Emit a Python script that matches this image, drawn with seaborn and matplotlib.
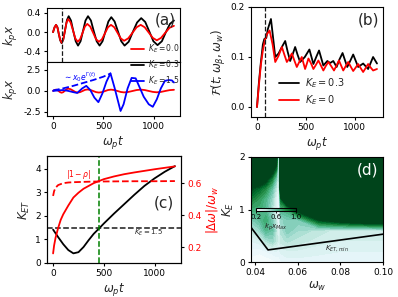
import numpy as np
import matplotlib
matplotlib.use('Agg')
import matplotlib.pyplot as plt
import seaborn as sns
from matplotlib.colors import Normalize
import matplotlib.cm as cm

# ---------------- panel (a) top: k_p x vs omega_p t ----------------
t_a_k = [0, 15, 30, 44, 57, 71, 85, 102, 120, 138, 155, 178, 201, 225, 248, 273, 297, 322, 347,
         376, 404, 433, 462, 491, 520, 549, 578, 611, 644, 677, 710, 751, 792, 834, 875, 915,
         956, 996, 1037, 1080, 1120, 1160, 1200]
x_k03 = [0, 0.1, 0.15, 0.1, -0.04, -0.17, -0.23, -0.15, 0.05, 0.25, 0.33, 0.24, 0.02, -0.19, -0.28,
         -0.19, 0.02, 0.24, 0.33, 0.24, 0.02, -0.19, -0.28, -0.19, 0.015, 0.22, 0.31, 0.22, 0.015,
         -0.19, -0.28, -0.2, 0.005, 0.2, 0.29, 0.21, 0.01, -0.19, -0.27, -0.19, 0.0, 0.17, 0.24]
t_a_r = [0, 15, 30, 44, 57, 71, 85, 101, 118, 134, 150, 174, 198, 221, 245, 269, 293, 316, 340,
         369, 398, 426, 455, 485, 515, 545, 575, 608, 640, 672, 705, 746, 788, 829, 870, 910,
         950, 990, 1030, 1072, 1115, 1157, 1200]
x_k00 = [0, 0.1, 0.15, 0.09, -0.03, -0.16, -0.22, -0.15, 0.025, 0.2, 0.27, 0.2, 0.035, -0.13, -0.2,
         -0.145, -0.015, 0.115, 0.17, 0.115, -0.015, -0.145, -0.2, -0.15, -0.025, 0.1, 0.15, 0.1,
         -0.015, -0.13, -0.18, -0.13, -0.015, 0.1, 0.15, 0.1, -0.01, -0.12, -0.17, -0.12, -0.01,
         0.09, 0.13]

# ---------------- panel (a) bottom ----------------
t_a_b = [0, 50, 100, 150, 200, 240, 290, 330, 370, 410, 450, 490, 530, 570, 610, 640, 670, 700,
         740, 780, 820, 860, 900, 950, 990, 1030, 1070, 1110, 1150, 1180, 1200]
x_k15 = [0, 0.05, 0.1, 0.0, -0.15, -0.25, 0.3, 0.6, 0.1, -0.8, -1.35, -0.3, 1.1, 2.1, 0.4, -1.0,
         -2.4, -1.6, 0.3, 1.55, 1.5, 0.4, -0.7, -1.6, -1.9, -1.0, 0.3, 1.2, 1.3, 1.25, 1.0]
t_env = [0, 100, 200, 300, 400, 500, 575]
x_env = [0.05, 0.3, 0.6, 0.95, 1.3, 1.7, 2.1]

t_mark = 85  # vertical dashed marker

# ---------------- panel (b) ----------------
t_b_k = [0, 20, 40, 60, 75, 95, 110, 143, 170, 187, 221, 255, 289, 315, 340, 365, 391, 415, 442,
         490, 537, 578, 607, 636, 680, 721, 750, 782, 816, 845, 877, 925, 955, 986, 1037, 1088,
         1139, 1190, 1230]
F_k03 = [0, 0.05, 0.09, 0.125, 0.136, 0.138, 0.155, 0.176, 0.13, 0.1, 0.107, 0.12, 0.132, 0.11,
         0.092, 0.105, 0.12, 0.105, 0.09, 0.1, 0.115, 0.086, 0.1, 0.113, 0.083, 0.092, 0.088,
         0.092, 0.08, 0.095, 0.108, 0.08, 0.092, 0.105, 0.08, 0.087, 0.076, 0.1, 0.087]
t_b_r = [0, 20, 40, 60, 80, 100, 129, 160, 187, 220, 255, 280, 306, 330, 357, 383, 408, 433, 459,
         476, 493, 510, 527, 552, 578, 603, 629, 655, 680, 705, 731, 760, 789, 815, 840, 862, 884,
         910, 935, 960, 986, 1012, 1037, 1062, 1088, 1114, 1139, 1165, 1190, 1230]
F_k00 = [0, 0.045, 0.085, 0.113, 0.133, 0.145, 0.153, 0.125, 0.09, 0.102, 0.12, 0.105, 0.09,
         0.097, 0.107, 0.093, 0.08, 0.09, 0.1, 0.088, 0.076, 0.086, 0.097, 0.088, 0.076, 0.084,
         0.093, 0.083, 0.073, 0.082, 0.09, 0.082, 0.073, 0.083, 0.093, 0.083, 0.073, 0.082, 0.09,
         0.081, 0.072, 0.079, 0.086, 0.078, 0.07, 0.078, 0.086, 0.079, 0.073, 0.076]

# ---------------- panel (c) ----------------
t_c = [0, 50, 100, 150, 200, 250, 300, 350, 400, 460, 500, 600, 700, 800, 900, 1000, 1100, 1200]
K_ET = [1.42, 1.1, 0.8, 0.55, 0.41, 0.46, 0.68, 0.97, 1.24, 1.5, 1.68, 2.1, 2.5, 2.9, 3.28, 3.6,
        3.88, 4.12]
t_dw = [0, 10, 25, 50, 75, 100, 150, 200, 250, 300, 400, 500, 600, 700, 800, 900, 1000, 1100, 1200]
dw_rel = [0.16, 0.21, 0.26, 0.32, 0.37, 0.405, 0.46, 0.51, 0.54, 0.565, 0.6, 0.625, 0.642, 0.656,
          0.667, 0.677, 0.687, 0.696, 0.705]
t_rho = [0, 10, 25, 50, 100, 150, 200, 300, 400, 600, 800, 1000, 1200]
one_minus_rho = [0.52, 0.55, 0.572, 0.588, 0.6, 0.604, 0.606, 0.608, 0.61, 0.611, 0.612, 0.612, 0.613]
KE_level = 1.5
t_green = 455

# ---------------- panel (d) ----------------
omega_w = [0.038, 0.042, 0.045, 0.048, 0.050, 0.051, 0.052, 0.055, 0.06, 0.07, 0.08, 0.09, 0.1]
K_E = [0.0, 0.2, 0.4, 0.6, 0.8, 1.0, 1.2, 1.4, 1.6, 1.8, 2.0]
# kp x_max, one row per K_E value (bottom -> top), one column per omega_w
xmax_rows = [
    [0.22, 0.20, 0.20, 0.22, 0.24, 0.25, 0.27, 0.30, 0.30, 0.30, 0.30, 0.30, 0.30],
    [0.26, 0.25, 0.28, 0.30, 0.32, 0.30, 0.33, 0.35, 0.35, 0.33, 0.32, 0.32, 0.32],
    [0.32, 0.35, 0.45, 0.50, 0.42, 0.35, 0.42, 0.45, 0.42, 0.38, 0.36, 0.36, 0.36],
    [0.42, 0.50, 0.65, 0.60, 0.42, 0.30, 0.45, 0.55, 0.48, 0.42, 0.38, 0.38, 0.40],
    [0.55, 0.62, 0.72, 0.55, 0.38, 0.25, 0.50, 0.55, 0.55, 1.00, 1.15, 1.25, 1.30],
    [0.70, 0.70, 0.62, 0.45, 0.30, 0.20, 0.65, 0.70, 1.10, 2.00, 2.00, 2.00, 2.00],
    [0.85, 0.75, 0.65, 0.50, 0.32, 0.20, 0.90, 1.50, 2.00, 2.00, 2.00, 2.00, 2.00],
    [1.00, 0.90, 0.80, 0.60, 0.40, 0.20, 1.50, 2.00, 2.00, 2.00, 2.00, 2.00, 2.00],
    [1.60, 1.30, 1.10, 0.85, 0.55, 0.20, 2.00, 2.00, 2.00, 2.00, 2.00, 2.00, 2.00],
    [2.00, 2.00, 1.60, 1.20, 0.90, 0.20, 2.00, 2.00, 2.00, 2.00, 2.00, 2.00, 2.00],
    [2.00, 2.00, 2.00, 1.60, 1.20, 0.20, 2.00, 2.00, 2.00, 2.00, 2.00, 2.00, 2.00],
]
w_line = [0.038, 0.046, 0.1]
K_ET_min = [0.66, 0.23, 0.53]
cbar_ticks = [0.2, 0.6, 1.0]

# ---------------- style ----------------
sns.set_theme(style='ticks')
plt.rcParams.update({
    'font.family': ['DejaVu Sans'],
    'mathtext.fontset': 'dejavusans',
    'axes.unicode_minus': False,
    'font.size': 7,
    'xtick.labelsize': 6.5,
    'ytick.labelsize': 6.5,
    'axes.labelsize': 8.5,
    'axes.linewidth': 0.8,
    'xtick.major.size': 2.5,
    'ytick.major.size': 2.5,
    'xtick.major.width': 0.8,
    'ytick.major.width': 0.8,
    'xtick.major.pad': 2,
    'ytick.major.pad': 2,
    'axes.labelpad': 2,
    'axes.edgecolor': 'black',
    'xtick.color': 'black',
    'ytick.color': 'black',
})

W, H = 398, 297
fig = plt.figure(figsize=(W / 100, H / 100), dpi=100)


def rect(l, t, r, b):
    return [l / W, 1 - b / H, (r - l) / W, (b - t) / H]


ax_a1 = fig.add_axes(rect(47, 8, 180, 62))
ax_a2 = fig.add_axes(rect(47, 62, 180, 116), sharex=ax_a1)
ax_b = fig.add_axes(rect(251, 7, 383, 117))
ax_c = fig.add_axes(rect(47, 156, 181, 263))
ax_d = fig.add_axes(rect(251, 157, 383, 262))

lw = 1.3
RED, BLUE, BLACK = '#ff0000', '#0000ff', '#000000'

# ---- (a) top
sns.lineplot(x=t_a_k, y=x_k03, ax=ax_a1, color=BLACK, lw=lw, legend=False)
sns.lineplot(x=t_a_r, y=x_k00, ax=ax_a1, color=RED, lw=lw, legend=False)
ax_a1.axvline(t_mark, color='k', ls='--', lw=0.9)
ax_a1.set_ylim(-0.62, 0.5)
ax_a1.set_yticks([-0.4, 0.0, 0.4])
ax_a1.set_ylabel(r'$k_p x$')
ax_a1.tick_params(labelbottom=False)
ax_a1.text(0.89, 0.78, '(a)', transform=ax_a1.transAxes, fontsize=11, ha='center', va='center')

# ---- (a) bottom
sns.lineplot(x=t_a_r, y=x_k00, ax=ax_a2, color=RED, lw=lw, legend=False)
sns.lineplot(x=t_a_b, y=x_k15, ax=ax_a2, color=BLUE, lw=lw, legend=False)
sns.lineplot(x=t_env, y=x_env, ax=ax_a2, color=BLUE, lw=lw, linestyle='--', legend=False)
ax_a2.set_ylim(-3.0, 3.45)
ax_a2.set_yticks([-2.5, 0.0, 2.5])
ax_a2.set_xlim(-60, 1260)
ax_a2.set_xticks([0, 500, 1000])
ax_a2.set_ylabel(r'$k_p x$')
ax_a2.set_xlabel(r'$\omega_p t$')
ax_a2.text(95, 1.7, r'$\sim x_0 e^{\Gamma(t)}$', color=BLUE, fontsize=5.5, va='center')
fig.align_ylabels([ax_a1, ax_a2])

handles = [ax_a1.lines[1], ax_a1.lines[0], ax_a2.lines[1]]
fig.legend(handles, [r'$K_E = 0.0$', r'$K_E = 0.3$', r'$K_E = 1.5$'], loc='center',
           bbox_to_anchor=(0.39, 0.782), frameon=False, fontsize=5.5, handlelength=1.8,
           labelspacing=0.45, handletextpad=0.5, borderpad=0.1)

# ---- (b)
sns.lineplot(x=t_b_k, y=F_k03, ax=ax_b, color=BLACK, lw=lw, label=r'$K_E = 0.3$')
sns.lineplot(x=t_b_r, y=F_k00, ax=ax_b, color=RED, lw=lw, label=r'$K_E = 0$')
ax_b.axvline(t_mark, color='k', ls='--', lw=0.9)
ax_b.set_ylim(-0.02, 0.2)
ax_b.set_yticks([0.0, 0.1, 0.2])
ax_b.set_xlim(-61.5, 1291.5)
ax_b.set_xticks([0, 500, 1000])
ax_b.set_xlabel(r'$\omega_p t$')
ax_b.set_ylabel(r'$\mathcal{F}(t;\omega_\beta,\omega_w)$')
ax_b.legend(loc='center', bbox_to_anchor=(0.46, 0.23), frameon=False, fontsize=7,
            handlelength=2.0, labelspacing=0.4, handletextpad=0.6)
ax_b.text(0.89, 0.88, '(b)', transform=ax_b.transAxes, fontsize=11, ha='center', va='center')

# ---- (c)
sns.lineplot(x=t_c, y=K_ET, ax=ax_c, color=BLACK, lw=lw, legend=False)
ax_c.axhline(KE_level, color='k', ls='--', lw=1.1)
ax_c.axvline(t_green, color='#008000', ls='--', lw=1.1)
ax_c.set_ylim(0, 4.55)
ax_c.set_yticks([0, 1, 2, 3, 4])
ax_c.set_xlim(-60, 1260)
ax_c.set_xticks([0, 500, 1000])
ax_c.set_xlabel(r'$\omega_p t$')
ax_c.set_ylabel(r'$K_{ET}$')
ax_c.text(940, 1.28, r'$K_E = 1.5$', fontsize=5, ha='center', va='center')
ax_c.text(0.87, 0.56, '(c)', transform=ax_c.transAxes, fontsize=11, ha='center', va='center')

ax_c2 = ax_c.twinx()
sns.lineplot(x=t_dw, y=dw_rel, ax=ax_c2, color=RED, lw=lw, legend=False)
sns.lineplot(x=t_rho, y=one_minus_rho, ax=ax_c2, color=RED, lw=lw, linestyle='--', legend=False)
ax_c2.set_ylim(0.1, 0.77)
ax_c2.set_yticks([0.2, 0.4, 0.6])
ax_c2.tick_params(axis='y', labelcolor=RED)
ax_c2.set_ylabel(r'$|\Delta\omega|/\omega_w$', color=RED)
ax_c2.text(250, 0.655, r'$|1-\rho|$', color=RED, fontsize=5.5, ha='center', va='center')

# ---- (d)
Z = np.array(xmax_rows)
levels = np.linspace(0.2, 1.0, 21)
ax_d.contourf(omega_w, K_E, Z, levels=levels, cmap='BuGn', extend='both')
sns.lineplot(x=w_line, y=K_ET_min, ax=ax_d, color=BLACK, lw=1.2, legend=False)
ax_d.set_xlim(0.038, 0.1)
ax_d.set_ylim(0, 2)
ax_d.set_xticks([0.04, 0.06, 0.08, 0.10])
ax_d.set_xticklabels(['0.04', '0.06', '0.08', '0.10'])
ax_d.set_yticks([0, 1, 2])
ax_d.set_xlabel(r'$\omega_w$')
ax_d.set_ylabel(r'$K_E$')
ax_d.text(0.0785, 0.26, r'$K_{ET,min}$', fontsize=5, ha='center', va='center')
ax_d.text(0.88, 0.88, '(d)', transform=ax_d.transAxes, fontsize=11, ha='center', va='center',
          color='white')

cax = ax_d.inset_axes([0.036, 0.486, 0.305, 0.033])
sm = cm.ScalarMappable(norm=Normalize(0.2, 1.0), cmap='BuGn')
cb = fig.colorbar(sm, cax=cax, orientation='horizontal', ticks=cbar_ticks)
cb.ax.tick_params(labelsize=5, length=1.5, pad=1, width=0.6)
cb.outline.set_linewidth(0.8)
cb.set_label(r'$k_p x_{Max}$', fontsize=5, labelpad=1)

fig.savefig('out.png', dpi=100)
